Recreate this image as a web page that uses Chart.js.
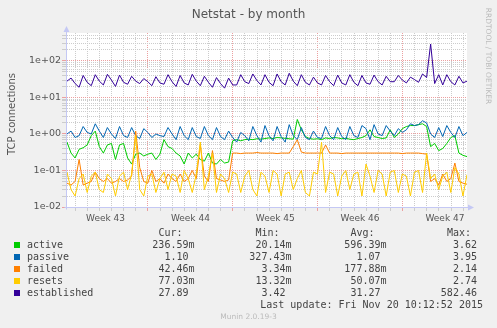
<!DOCTYPE html>
<html>
<head>
<meta charset="utf-8">
<title>Netstat - by month</title>
<script src="https://cdn.jsdelivr.net/npm/chart.js@4"></script>
<style>
  html, body { margin: 0; padding: 0; background: #f0f0f0; }
  #wrap { position: relative; width: 497px; height: 328px; overflow: hidden; }
  #graph { position: absolute; left: 0; top: 0; }
  .txt { position: absolute; white-space: pre; line-height: 12px; }
  .sans { font-family: "DejaVu Sans", sans-serif; }
  .mono { font-family: "DejaVu Sans Mono", monospace; font-size: 10px; color: #444; }
  .swatch { position: absolute; width: 6px; height: 6px; }
</style>
</head>
<body>
<div id="wrap">
  <canvas id="graph" width="497" height="328"></canvas>
  <div class="txt sans" style="left:0;width:497px;top:7px;text-align:center;font-size:12px;line-height:14px;color:#555;">Netstat - by month</div>
  <div class="txt sans" style="left:-48px;top:108px;width:120px;text-align:center;font-size:10px;color:#555;transform:rotate(-90deg);">TCP connections</div>
  <div class="txt sans" style="left:428px;top:50px;width:120px;text-align:center;font-size:7.5px;color:#bbb;transform:rotate(90deg);">RRDTOOL / TOBI OETIKER</div>
  <div class="txt sans" style="left:0;width:497px;top:311px;text-align:center;font-size:7.5px;color:#bbb;">Munin 2.0.19-3</div>
  <div id="legend"></div>
</div>
<script>
// Munin netstat fields, one sample every 8 hours over the 33 day window
const fieldNames = ['active', 'passive', 'failed', 'resets', 'established'];
const fieldColors = ['#00cc00', '#0066b3', '#ff8000', '#ffcc00', '#330099'];

const active = [
  0.6, 0.3, 0.22, 0.38, 0.42, 0.5, 0.9, 1.2, 0.45, 0.3,
  0.5, 0.55, 0.2, 0.5, 0.55, 0.22, 0.15, 0.28, 0.3, 0.25,
  0.28, 0.3, 0.2, 0.28, 0.7, 0.45, 0.4, 0.3, 0.25, 0.15,
  0.3, 0.22, 0.28, 0.2, 0.18, 0.3, 0.16, 0.15, 0.2, 0.16,
  0.17, 0.65, 0.7, 0.65, 0.7, 0.72, 0.7, 0.74, 0.72, 0.75,
  0.78, 0.75, 0.8, 0.78, 0.76, 0.74, 0.72, 2.5, 1.3, 0.85,
  0.75, 0.72, 0.74, 0.7, 0.78, 0.75, 0.8, 0.78, 0.74, 0.76,
  0.72, 0.7, 0.75, 0.8, 0.9, 1.3, 0.85, 0.8, 0.75, 0.78,
  1.3, 0.8, 1.0, 1.4, 1.6, 1.7, 1.7, 1.8, 1.9, 1.6,
  0.45, 0.55, 0.35, 0.4, 0.55, 0.8, 0.9, 0.3, 0.26, 0.24
];
const passive = [
  1.0, 1.2, 0.8, 0.9, 1.6, 1.1, 1.0, 1.9, 1.2, 0.8,
  1.5, 1.0, 0.75, 1.6, 0.9, 0.8, 1.5, 0.9, 0.75, 1.4,
  1.1, 0.8, 1.0, 0.9, 0.85, 1.5, 1.0, 0.7, 1.6, 0.9,
  0.7, 1.5, 0.85, 0.75, 1.6, 0.9, 0.7, 1.5, 0.85, 0.7,
  1.2, 0.8, 0.6, 1.1, 0.9, 0.65, 1.6, 0.9, 0.6, 1.7,
  0.9, 0.65, 1.6, 0.85, 0.6, 1.8, 0.9, 0.7, 1.5, 0.8,
  0.7, 1.2, 0.8, 0.75, 1.6, 0.9, 0.7, 1.5, 0.85, 0.7,
  1.6, 0.9, 0.8, 1.7, 1.4, 0.7, 1.8, 1.0, 0.9, 1.7,
  1.2, 0.9, 1.4, 1.1, 1.3, 1.9, 1.7, 1.8, 2.3, 2.0,
  1.0, 0.8, 1.5, 0.85, 1.7, 1.1, 0.8, 1.6, 0.9, 1.1
];
const failed = [
  0.045, 0.04, 0.05, 0.2, 0.04, 0.045, 0.05, 0.09, 0.06, 0.05,
  0.06, 0.045, 0.05, 0.06, 0.05, 0.055, 0.07, 1.2, 0.12, 0.05,
  0.045, 0.1, 0.05, 0.06, 0.045, 0.08, 0.06, 0.05, 0.08, 0.05,
  0.06, 0.1, 0.06, 0.5, 0.07, 0.05, 0.35, 0.06, 0.055, 0.05,
  0.055, 0.3, 0.3, 0.29, 0.3, 0.3, 0.3, 0.31, 0.3, 0.3,
  0.3, 0.3, 0.29, 0.3, 0.3, 0.3, 0.45, 0.7, 0.32, 0.3,
  0.3, 0.3, 0.3, 0.3, 0.5, 0.3, 0.3, 0.3, 0.29, 0.3,
  0.3, 0.3, 0.3, 0.3, 0.3, 0.3, 0.3, 0.3, 0.3, 0.3,
  0.3, 0.3, 0.3, 0.29, 0.3, 0.3, 0.3, 0.3, 0.29, 0.28,
  0.05, 0.06, 0.04, 0.08, 0.05, 0.06, 0.16, 0.05, 0.045, 0.042
];
const resets = [
  0.09, 0.03, 0.02, 0.06, 0.08, 0.025, 0.07, 0.09, 0.03, 0.025,
  0.08, 0.06, 0.02, 0.07, 0.09, 0.03, 0.08, 0.9, 0.03, 0.02,
  0.07, 0.08, 0.025, 0.06, 0.09, 0.03, 0.08, 0.07, 0.025, 0.1,
  0.06, 0.025, 0.08, 0.6, 0.03, 0.07, 0.3, 0.025, 0.08, 0.06,
  0.025, 0.09, 0.08, 0.025, 0.07, 0.1, 0.03, 0.02, 0.09, 0.07,
  0.025, 0.1, 0.08, 0.02, 0.08, 0.09, 0.03, 0.06, 0.1, 0.025,
  0.02, 0.09, 0.08, 0.6, 0.025, 0.09, 0.08, 0.02, 0.07, 0.1,
  0.03, 0.08, 0.09, 0.02, 0.15, 0.07, 0.025, 0.1, 0.08, 0.02,
  0.09, 0.1, 0.025, 0.08, 0.07, 0.02, 0.09, 0.1, 0.025, 0.3,
  0.06, 0.08, 0.03, 0.07, 0.09, 0.025, 0.12, 0.08, 0.02, 0.077
];
const established = [
  28, 34, 24, 19, 40, 26, 21, 42, 28, 22,
  43, 30, 20, 41, 26, 23, 38, 28, 24, 33,
  27, 21, 37, 25, 23, 42, 27, 20, 40, 25,
  22, 43, 28, 21, 38, 26, 19, 35, 24, 18,
  34, 22, 22, 42, 27, 24, 44, 29, 22, 42,
  26, 21, 44, 27, 22, 46, 28, 21, 42, 26,
  22, 36, 25, 22, 40, 27, 21, 41, 25, 22,
  42, 26, 21, 40, 25, 23, 41, 27, 22, 38,
  27, 27, 40, 30, 25, 36, 31, 26, 44, 35,
  290, 24, 42, 22, 42, 27, 22, 38, 25, 28
];
const fieldSeries = [active, passive, failed, resets, established];

// legend table (as printed by rrdtool GPRINT)
const curValues = ['236.59m', '1.10', '42.46m', '77.03m', '27.89'];
const minValues = ['20.14m', '327.43m', '3.34m', '13.32m', '3.42'];
const avgValues = ['596.39m', '1.07', '177.88m', '50.07m', '31.27'];
const maxValues = ['3.62', '3.95', '2.14', '2.74', '582.46'];
const lastUpdate = 'Last update: Fri Nov 20 10:12:52 2015';

// axes
const weekLabels = ['Week 43', 'Week 44', 'Week 45', 'Week 46', 'Week 47'];
const yDecades = [0.01, 0.1, 1, 10, 100];
const yTickLabels = ['1e-02', '1e-01', '1e+00', '1e+01', '1e+02'];
const yMin = 0.01;
const yMax = 582.46;
const spanDays = 33;
const sampleStep = 1 / 3;
const firstWeekLine = 6.68; // first Sunday 00:00 after graph start, in days

const dayLines = [];
for (let d = firstWeekLine - 6; d < spanDays; d += 1) dayLines.push(+d.toFixed(3));
const weekLines = dayLines.filter(d => Math.abs(((d - firstWeekLine) % 7 + 7) % 7) < 0.01);
const weekCenters = weekLabels.map((_, i) => +(firstWeekLine - 3.5 + 7 * i).toFixed(3));

const yGridValues = [];
yDecades.forEach(dec => {
  for (let m = 1; m <= 9; m++) {
    const v = +(dec * m).toPrecision(3);
    if (v <= yMax) yGridValues.push(v);
  }
});

const minorGrid = '#cccccc';
const majorGrid = '#eca0a0';
const axisColor = '#c4c8f4';

// white canvas + rrdtool style axes with arrow heads
const rrdFrame = {
  id: 'rrdFrame',
  beforeDraw(chart) {
    const { ctx, chartArea: a } = chart;
    ctx.save();
    ctx.fillStyle = '#ffffff';
    ctx.fillRect(a.left, a.top, a.right - a.left, a.bottom - a.top);
    ctx.restore();
  },
  afterDraw(chart) {
    const { ctx, chartArea: a } = chart;
    const x0 = Math.round(a.left) - 0.5;
    const y0 = Math.round(a.bottom) + 0.5;
    ctx.save();
    ctx.strokeStyle = axisColor;
    ctx.fillStyle = axisColor;
    ctx.lineWidth = 1;
    ctx.beginPath();
    ctx.moveTo(x0, y0 + 2);
    ctx.lineTo(x0, a.top - 3);
    ctx.moveTo(x0 - 2, y0);
    ctx.lineTo(a.right + 3, y0);
    ctx.stroke();
    ctx.beginPath();
    ctx.moveTo(x0, a.top - 7);
    ctx.lineTo(x0 - 3, a.top - 1);
    ctx.lineTo(x0 + 3, a.top - 1);
    ctx.closePath();
    ctx.fill();
    ctx.beginPath();
    ctx.moveTo(a.right + 7, y0);
    ctx.lineTo(a.right + 1, y0 - 3);
    ctx.lineTo(a.right + 1, y0 + 3);
    ctx.closePath();
    ctx.fill();
    ctx.restore();
  }
};

new Chart(document.getElementById('graph'), {
  type: 'line',
  data: {
    datasets: fieldNames.map((name, i) => ({
      label: name,
      data: fieldSeries[i].map((v, k) => ({ x: k * sampleStep, y: v })),
      borderColor: fieldColors[i],
      borderWidth: 1,
      pointRadius: 0,
      tension: 0,
      order: fieldNames.length - 1 - i
    }))
  },
  options: {
    responsive: false,
    animation: false,
    events: [],
    layout: { padding: { left: 0, top: 33, right: 30, bottom: 0 } },
    plugins: { legend: { display: false }, tooltip: { enabled: false }, title: { display: false } },
    scales: {
      x: {
        type: 'linear',
        min: 0,
        max: spanDays,
        afterFit(scale) { scale.height = 121; },
        afterBuildTicks(scale) {
          scale.ticks = dayLines.concat(weekCenters).sort((a, b) => a - b).map(v => ({ value: v }));
        },
        grid: {
          color(ctx) {
            const v = ctx.tick && ctx.tick.value;
            if (weekCenters.includes(v)) return 'transparent';
            return weekLines.includes(v) ? majorGrid : minorGrid;
          },
          lineWidth: 1,
          tickLength: 4
        },
        border: { display: false, dash: [1, 1] },
        ticks: {
          autoSkip: false,
          maxRotation: 0,
          padding: 2,
          color: '#555',
          font: { family: 'DejaVu Sans', size: 9 },
          callback(value) {
            const i = weekCenters.indexOf(value);
            return i >= 0 ? weekLabels[i] : '';
          }
        }
      },
      y: {
        type: 'logarithmic',
        min: yMin,
        max: yMax,
        afterFit(scale) { scale.width = 67; },
        afterBuildTicks(scale) {
          scale.ticks = yGridValues.map(v => ({ value: v }));
        },
        grid: {
          color(ctx) {
            const v = ctx.tick && ctx.tick.value;
            return yDecades.includes(v) ? majorGrid : minorGrid;
          },
          lineWidth: 1,
          tickLength: 5
        },
        border: { display: false, dash: [1, 1] },
        ticks: {
          autoSkip: false,
          padding: 1,
          color: '#555',
          font: { family: 'DejaVu Sans', size: 9.5 },
          callback(value) {
            const i = yDecades.indexOf(value);
            return i >= 0 ? yTickLabels[i] : '';
          }
        }
      }
    }
  },
  plugins: [rrdFrame]
});

// legend table under the graph
const legend = document.getElementById('legend');
const charW = 6.02;
const colEnds = [194.5, 291.5, 386.5, 483];
const colHeads = ['Cur:', 'Min:', 'Avg:', 'Max:'];
const rowTop = 239;
const rowStep = 12;

function addText(text, css) {
  const d = document.createElement('div');
  d.className = 'txt mono';
  d.textContent = text;
  Object.assign(d.style, css);
  legend.appendChild(d);
}

colHeads.forEach((h, c) => {
  addText(h, { right: (497 - (colEnds[c] - 2 * charW)) + 'px', top: (rowTop - rowStep) + 'px' });
});

fieldNames.forEach((name, r) => {
  const top = rowTop + r * rowStep;
  const sw = document.createElement('div');
  sw.className = 'swatch';
  sw.style.left = '14px';
  sw.style.top = (top + 3) + 'px';
  sw.style.background = fieldColors[r];
  legend.appendChild(sw);
  addText(name, { left: '27px', top: top + 'px' });
  [curValues, minValues, avgValues, maxValues].forEach((col, c) => {
    const s = col[r];
    const text = /m$/.test(s) ? s : s + ' ';
    addText(text, { right: (497 - colEnds[c]) + 'px', top: top + 'px' });
  });
});

addText(lastUpdate, { right: (497 - colEnds[3]) + 'px', top: (rowTop + 5 * rowStep) + 'px' });
</script>
</body>
</html>
